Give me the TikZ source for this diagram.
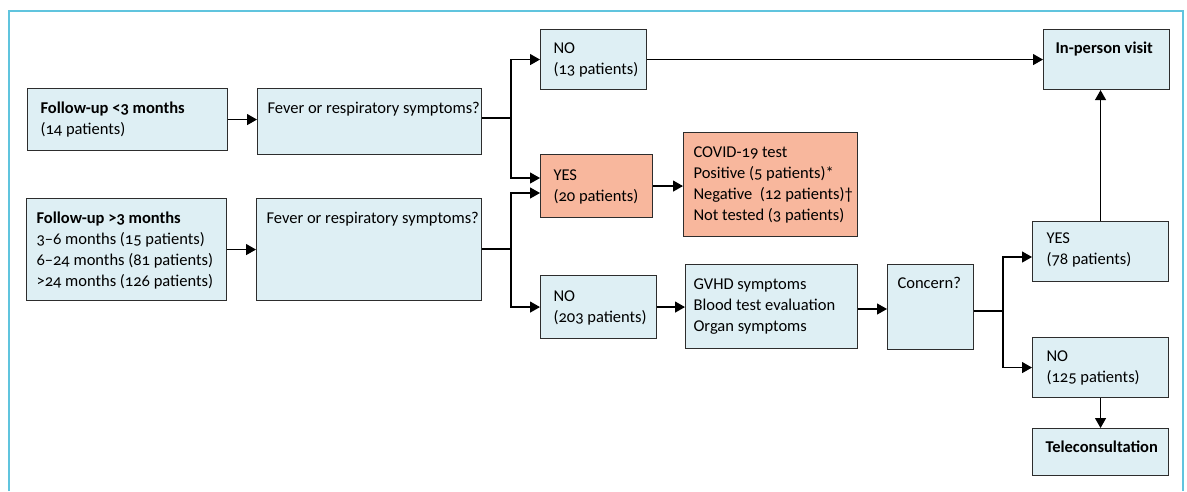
\documentclass[tikz,border=0pt]{standalone}
\usepackage{fontspec}
\setmainfont{Carlito}[Numbers=OldStyle]
\usetikzlibrary{arrows.meta,calc}
\definecolor{boxblue}{RGB}{222,239,244}
\definecolor{boxorange}{RGB}{248,183,157}
\definecolor{framecyan}{RGB}{96,196,222}
\definecolor{edgegray}{RGB}{45,45,45}
\newcommand{\bxtext}[5]{\parbox[c][#2pt][t]{#1pt}{\raggedright\leftskip=#4pt\baselineskip=21pt\rule{0pt}{#3pt}#5\par}}
\begin{document}
\begin{tikzpicture}[x=1pt,y=-1pt,
  bx/.style={draw=edgegray,line width=1.1pt,fill=boxblue,inner sep=0pt,anchor=north west,font=\fontsize{16.5}{21}\selectfont},
  ob/.style={bx,fill=boxorange},
  arr/.style={draw=black,line width=1.2pt,-{Triangle[length=10pt,width=11pt]}},
  ln/.style={draw=black,line width=1.2pt}]
\useasboundingbox (0,0) rectangle (1187,491);
\draw[framecyan,line width=1.6pt] (9,491) -- (9,11) -- (1183,11) -- (1183,491);

\node[bx] (f1) at (27,88) {\bxtext{200}{62}{25}{13}{\textbf{Follow-up <3 months}\\(14 patients)}};
\node[bx] (q1) at (257,88) {\bxtext{224}{66}{25}{10}{Fever or respiratory symptoms?}};
\node[bx] (f2) at (26,198) {\bxtext{200}{102}{25}{10}{\textbf{Follow-up >3 months}\\3–6 months (15 patients)\\6–24 months (81 patients)\\>24 months (126 patients)}};
\node[bx] (q2) at (256,198) {\bxtext{225}{102}{25}{10}{Fever or respiratory symptoms?}};
\node[bx] (no13) at (540,29) {\bxtext{106}{60}{24}{13}{NO\\(13 patients)}};
\node[ob] (yes20) at (540,154) {\bxtext{112}{63}{26}{13}{YES\\(20 patients)}};
\node[bx] (no203) at (540,275) {\bxtext{116}{63}{26}{13}{NO\\(203 patients)}};
\node[ob] (covid) at (683,132) {\bxtext{174}{104}{25}{10}{COVID-19 test\\Positive (5 patients)*\\Negative\ \ (12 patients)†\\Not tested (3 patients)}};
\node[bx] (gvhd) at (685,264) {\bxtext{172}{84}{25}{8}{GVHD symptoms\\Blood test evaluation\\Organ symptoms}};
\node[bx] (concern) at (887,264) {\bxtext{86}{85}{24}{10}{Concern?}};
\node[bx] (yes78) at (1032,221) {\bxtext{136}{60}{22}{14}{YES\\(78 patients)}};
\node[bx] (no125) at (1032,337) {\bxtext{136}{60}{24}{14}{NO\\(125 patients)}};
\node[bx] (tele) at (1032,428) {\bxtext{136}{47}{24}{13}{\textbf{Teleconsultation}}};
\node[bx] (inp) at (1043,29) {\bxtext{126}{60}{24}{12}{\textbf{In-person visit}}};

% connectors
\coordinate (j1) at (511,118);
\coordinate (j2) at (511,249);
\coordinate (j3) at (1003,311);
\draw[arr] (f1.east) -- (f1.east -| q1.west);
\draw[arr] (f2.east) -- (f2.east -| q2.west);
\draw[ln] (q1.east |- j1) -- (j1);
\draw[arr] (j1) |- (no13.west);
\draw[arr] (j1) |- ($(yes20.north west)+(0,24)$);
\draw[ln] (q2.east |- j2) -- (j2);
\draw[arr] (j2) |- ($(yes20.north west)+(0,39)$);
\draw[arr] (j2) |- (no203.west);
\draw[arr] (yes20.east) -- (yes20.east -| covid.west);
\draw[arr] (no203.east) -- (no203.east -| gvhd.west);
\draw[arr] ($(gvhd.north east)+(0,45)$) -- ($(concern.north west)+(0,45)$);
\draw[ln] (concern.east |- j3) -- (j3);
\draw[arr] (j3) |- ($(yes78.north west)+(0,36)$);
\draw[arr] (j3) |- (no125.west);
\draw[arr] (no13.east) -- (no13.east -| inp.west);
\draw[arr] (yes78.north) -- (yes78.north |- inp.south);
\draw[arr] (no125.south) -- (no125.south |- tele.north);
\end{tikzpicture}
\end{document}
